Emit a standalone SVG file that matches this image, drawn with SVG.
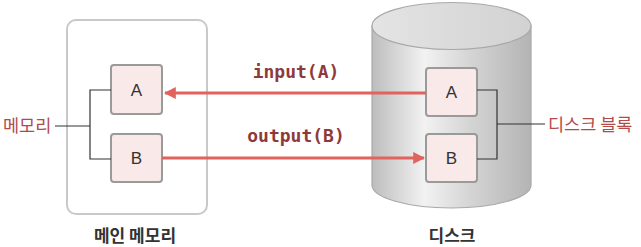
<svg xmlns="http://www.w3.org/2000/svg" width="641" height="247" viewBox="0 0 641 247">
<style>
.box{fill:#f9e9e8;stroke:#9a9a9a;stroke-width:2}
.letter{font-family:"Liberation Sans",Arial,sans-serif;font-size:17px;fill:#333;text-anchor:middle}
.lbl{font-family:"Noto Sans CJK KR","Noto Sans",sans-serif;font-size:17.5px;fill:#b24a4a}
.cap{font-family:"Noto Sans CJK KR","Noto Sans",sans-serif;font-size:17px;font-weight:bold;fill:#333;text-anchor:middle}
.code{font-family:"DejaVu Sans Mono","Liberation Mono",monospace;font-size:18px;font-weight:bold;fill:#8e3a3a;text-anchor:middle}
.bracket{fill:none;stroke:#333;stroke-width:1.2}
.arrow{stroke:#e2635c;stroke-width:3;fill:none}
</style>
<defs>
<linearGradient id="body" x1="0" y1="0" x2="1" y2="0">
<stop offset="0" stop-color="#bdbdbd"/>
<stop offset="0.33" stop-color="#f2f2f2"/>
<stop offset="0.6" stop-color="#d6d6d6"/>
<stop offset="1" stop-color="#b4b4b4"/>
</linearGradient>
<linearGradient id="top" x1="0" y1="0" x2="1" y2="0">
<stop offset="0" stop-color="#e4e4e4"/>
<stop offset="1" stop-color="#d2d2d2"/>
</linearGradient>
<marker id="ah" viewBox="0 0 10 10" refX="9" refY="5" markerWidth="4" markerHeight="4" orient="auto" markerUnits="strokeWidth">
<path d="M0,0 L10,5 L0,10 Z" fill="#e2635c"/>
</marker>
</defs>

<g id="main-memory">
<rect x="67" y="20" width="140" height="194" rx="9" fill="#fff" stroke="#c9c9c9" stroke-width="2"/>
<text class="cap" x="135" y="242">메인 메모리</text>
</g>

<g id="disk">
<path d="M372,26 L372,185 A79.5,23 0 0 0 531,185 L531,26 Z" fill="url(#body)" stroke="#a9a9a9" stroke-width="1.2"/>
<ellipse cx="451.5" cy="26" rx="79.5" ry="23.5" fill="url(#top)" stroke="#a9a9a9" stroke-width="1.2"/>
<text class="cap" x="452" y="242">디스크</text>
</g>

<g id="mem-A">
<rect class="box" x="111" y="65" width="51" height="49" rx="3"/>
<text class="letter" x="136.5" y="96">A</text>
</g>
<g id="mem-B">
<rect class="box" x="111" y="134" width="51" height="48" rx="3"/>
<text class="letter" x="136.5" y="164">B</text>
</g>
<g id="disk-A">
<rect class="box" x="426" y="68" width="51" height="48" rx="3"/>
<text class="letter" x="451.5" y="98">A</text>
</g>
<g id="disk-B">
<rect class="box" x="426" y="134" width="51" height="48" rx="3"/>
<text class="letter" x="451.5" y="164">B</text>
</g>

<g id="label-memory">
<text class="lbl" x="3" y="132">메모리</text>
</g>
<g id="label-diskblock">
<text class="lbl" x="548" y="131">디스크 블록</text>
</g>

<g id="connectors">
<path class="bracket" d="M111,90 H90 V159 H111 M90,126 H55"/>
<path class="bracket" d="M477,90 H497 V159 H477 M497,124 H545"/>
<line class="arrow" x1="426" y1="93" x2="165" y2="93" marker-end="url(#ah)"/>
<line class="arrow" x1="162" y1="158" x2="424" y2="158" marker-end="url(#ah)"/>
<text class="code" x="296" y="78">input(A)</text>
<text class="code" x="296" y="142">output(B)</text>
</g>
</svg>
